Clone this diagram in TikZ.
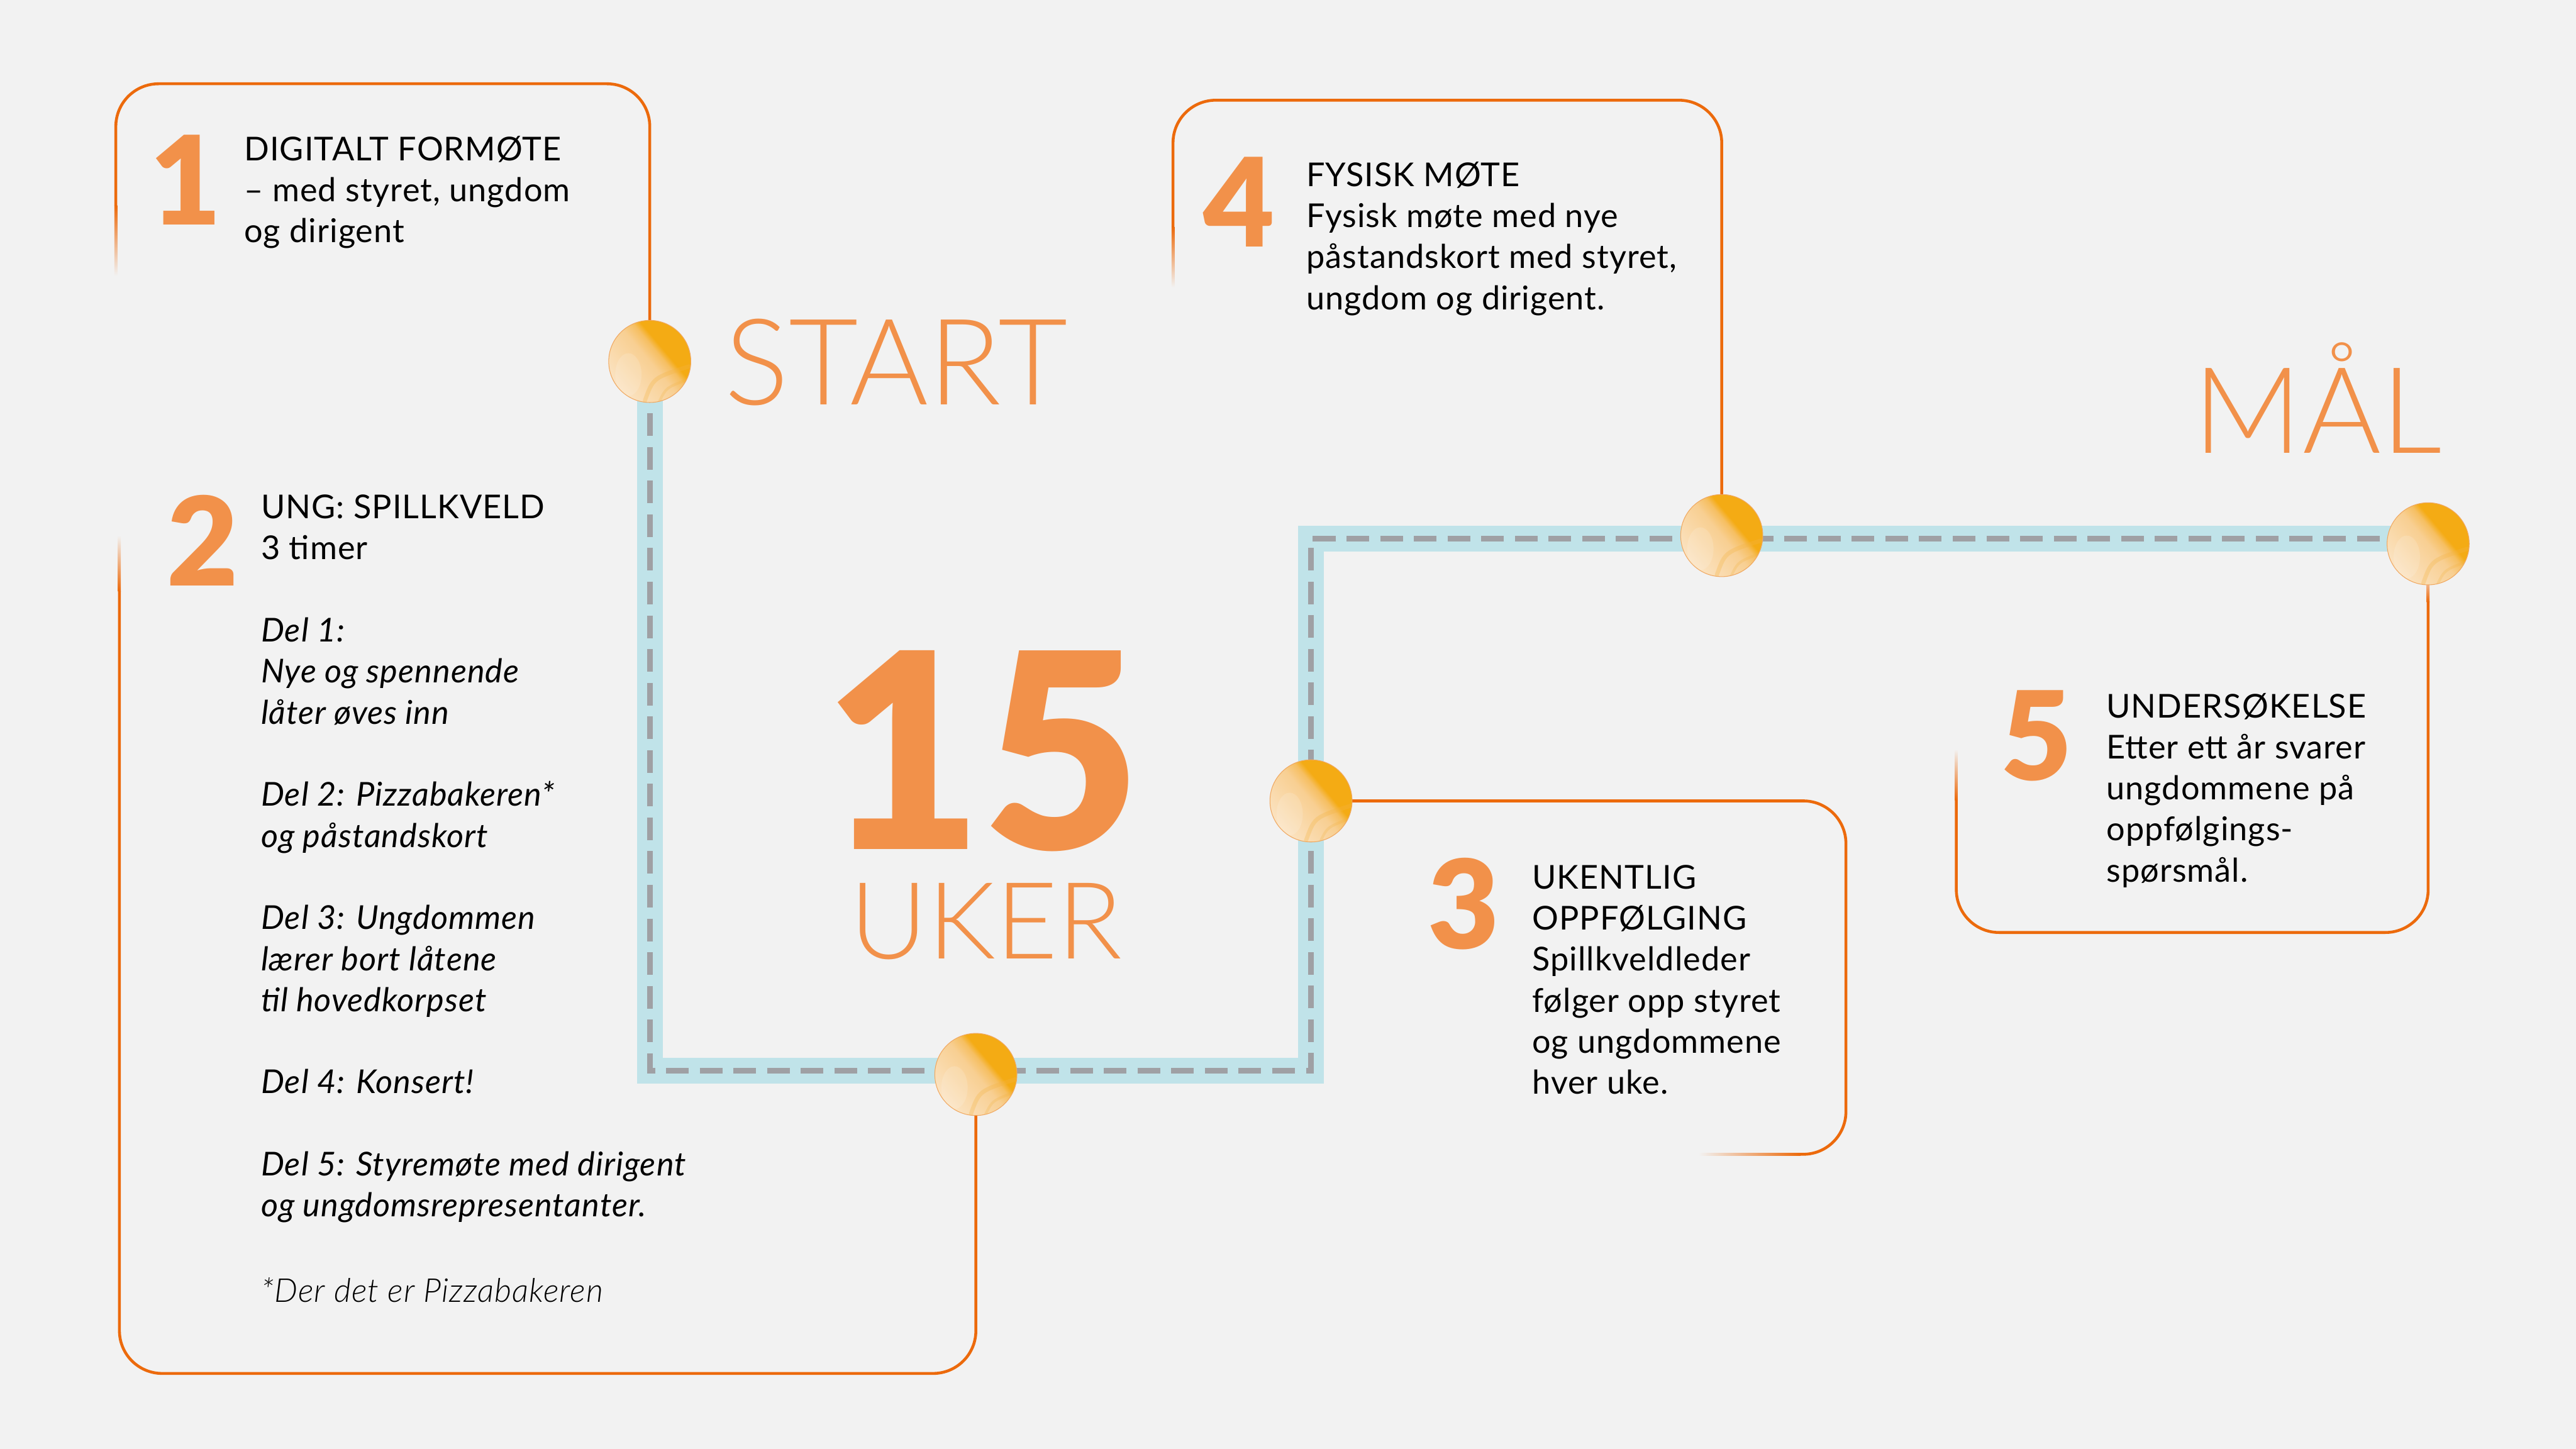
\documentclass[tikz,border=0pt]{standalone}
\usepackage{fontspec}
\setmainfont{Lato}[LetterSpace=2]
\newfontfamily\latoblack{Lato Black}
\newfontfamily\latolight{Lato Light}[ItalicFont={Lato Light Italic}, LetterSpace=2]
\newfontfamily\latotitle{Lato Light}
\usetikzlibrary{calc}
\definecolor{bg}{HTML}{F2F2F2}
\definecolor{lineor}{HTML}{EC6A0C}
\definecolor{numor}{HTML}{F2914A}
\definecolor{bandc}{HTML}{C0E3E9}
\definecolor{dashc}{HTML}{9FA0A4}
\definecolor{dA}{HTML}{FBE3C2}
\definecolor{dB}{HTML}{F8CF92}
\definecolor{dC}{HTML}{F6BF62}
\definecolor{dD}{HTML}{F4AB14}
\definecolor{discedge}{HTML}{F0A860}
\definecolor{streak}{HTML}{F4B444}
\definecolor{fadeor}{HTML}{F3B890}
\pgfdeclarehorizontalshading{discshade}{100bp}{color(0bp)=(dA); color(25bp)=(dA); color(50bp)=(dB); color(57bp)=(dC); color(61bp)=(dD); color(100bp)=(dD)}
\pgfdeclarelayer{front}
\pgfsetlayers{main,front}
\newcommand\textlines[1]{\vtop{\baselineskip=25pt\lineskiplimit=-100pt\lineskip=0pt #1}}
\begin{document}
\begin{tikzpicture}[x=1pt,y=-1pt,
  boxline/.style={draw=lineor, line width=1.75pt, rounded corners=26pt},
  bandline/.style={draw=bandc, line width=15.6pt, line join=miter},
  dashline/.style={draw=dashc, line width=3.5pt, dash pattern=on 13.8pt off 6.7pt, dash phase=9.4pt},
  disc/.style={circle, minimum size=50pt, inner sep=0pt, shading=discshade, shading angle=40,
    draw=discedge, line width=0.4pt,
    path picture={
      \begin{scope}[shift={(path picture bounding box.center)}]
        \fill[white, opacity=0.15] (-13,8) ellipse [x radius=8, y radius=13];
        \draw[streak, line width=2.5pt, opacity=0.3, line cap=round] (-3,24) .. controls (2,10) .. (24,3);
        \draw[streak, line width=1.6pt, opacity=0.25, line cap=round] (6,24) .. controls (10,16) .. (23,11);
      \end{scope}}},
  bodytext/.style={anchor=base west, inner sep=0pt, font=\fontsize{20}{25}\selectfont, text=black},
  numtext/.style={anchor=base, inner sep=0pt, text=numor, font=\fontsize{75}{75}\selectfont\latoblack},
  titletext/.style={anchor=base west, inner sep=0pt, text=numor, font=\fontsize{73}{73}\selectfont\latotitle}
]
\fill[bg] (0,0) rectangle (1568,882);
\useasboundingbox (0,0) rectangle (1568,882);

% discs on the front layer
\begin{pgfonlayer}{front}
\node[disc] (c1) at (395.5,220) {};
\node[disc] (c2) at (594,654) {};
\node[disc] (c3) at (798,487.5) {};
\node[disc] (c4) at (1048,326) {};
\node[disc] (c5) at (1478,331) {};
\end{pgfonlayer}

% path band
\coordinate (b1) at (395.5,651.7);
\coordinate (b2) at (798,651.7);
\coordinate (b3) at (798,327.9);
\draw[bandline] (c1.center) -- (b1) -- (b2) -- (b3) -- (b3 -| c5.center);
\draw[dashline] (c1.center) -- (b1) -- (b2) -- (b3) -- (b3 -| c5.center);

% box 1
\draw[boxline] (c1.center) -- (395.5,51) -- (70.5,51) -- (70.5,125);
\shade[top color=lineor, bottom color=bg] (69.625,125) rectangle (71.375,168);
% box 2
\draw[boxline] (c2.center) -- (594,836) -- (72.7,836) -- (72.7,360);
\shade[top color=bg, bottom color=lineor] (71.825,326) rectangle (73.575,360);
% box 3
\draw[boxline] (c3.center) -- (1123.6,487.5) -- (1123.6,702.6) -- (1096,702.6);
\shade[left color=bg, right color=lineor] (1034,701.725) rectangle (1096,703.475);
% box 4
\draw[boxline] (714,138) -- (714,61) -- (1048,61) -- (c4.center);
\shade[top color=lineor, bottom color=bg] (713.125,138) rectangle (714.875,175);
% box 5
\draw[boxline] (1478,366) -- (1478,567.6) -- (1190.8,567.6) -- (1190.8,487);
\shade[top color=fadeor, bottom color=lineor] (1477.125,355) rectangle (1478.875,366.5);
\shade[top color=bg, bottom color=lineor] (1189.925,456) rectangle (1191.675,487);

% numbers
\node[numtext] (n1) at (112.9,137) {1};
\node[numtext] (n2) at (123.4,356.6) {2};
\node[numtext] (n3) at (891,577.5) {3};
\node[numtext] (n4) at (754.3,150.3) {4};
\node[numtext] (n5) at (1239.5,475) {5};

% texts
\node[bodytext] (t1) at (148.5,97.7) {\textlines{\hbox{DIGITALT FORMØTE}\hbox{– med styret, ungdom}\hbox{og dirigent}}};
\node[bodytext] (t2) at (158.7,315.7) {\textlines{\hbox{UNG: SPILLKVELD}\hbox{3 timer}\vskip25pt
\hbox{\itshape Del 1:}\hbox{\itshape Nye og spennende}\hbox{\itshape låter øves inn}\vskip25pt
\hbox{\itshape Del 2: Pizzabakeren*}\hbox{\itshape og påstandskort}\vskip25pt
\hbox{\itshape Del 3: Ungdommen}\hbox{\itshape lærer bort låtene}\hbox{\itshape til hovedkorpset}\vskip25pt
\hbox{\itshape Del 4: Konsert!}\vskip25pt
\hbox{\itshape Del 5: Styremøte med dirigent}\hbox{\itshape og ungdomsrepresentanter.}\vskip27pt
\hbox{\latolight\itshape *Der det er Pizzabakeren}}};
\node[bodytext] (t3) at (932.5,541) {\textlines{\hbox{UKENTLIG}\hbox{OPPFØLGING}\hbox{Spillkveldleder}\hbox{følger opp styret}\hbox{og ungdommene}\hbox{hver uke.}}};
\node[bodytext] (t4) at (795,113.4) {\textlines{\hbox{FYSISK MØTE}\hbox{Fysisk møte med nye}\hbox{påstandskort med styret,}\hbox{ungdom og dirigent.}}};
\node[bodytext] (t5) at (1282,436.8) {\textlines{\hbox{UNDERSØKELSE}\hbox{Etter ett år svarer}\hbox{ungdommene på}\hbox{oppfølgings-}\hbox{spørsmål.}}};

% titles
\node[titletext] (start) at (441,246.5) {START};
\node[titletext] (maal) at (1335,276) {MÅL};
\node[anchor=base, inner sep=0pt, text depth=0pt, text=numor, font=\fontsize{166}{166}\selectfont\latoblack] (fifteen) at (598,517) {15};
\node[anchor=base, inner sep=0pt, text height=47pt, text=numor, font=\fontsize{65}{65}\selectfont\latotitle] (uker) at (600.3,583.5) {UKER};
\end{tikzpicture}
\end{document}
